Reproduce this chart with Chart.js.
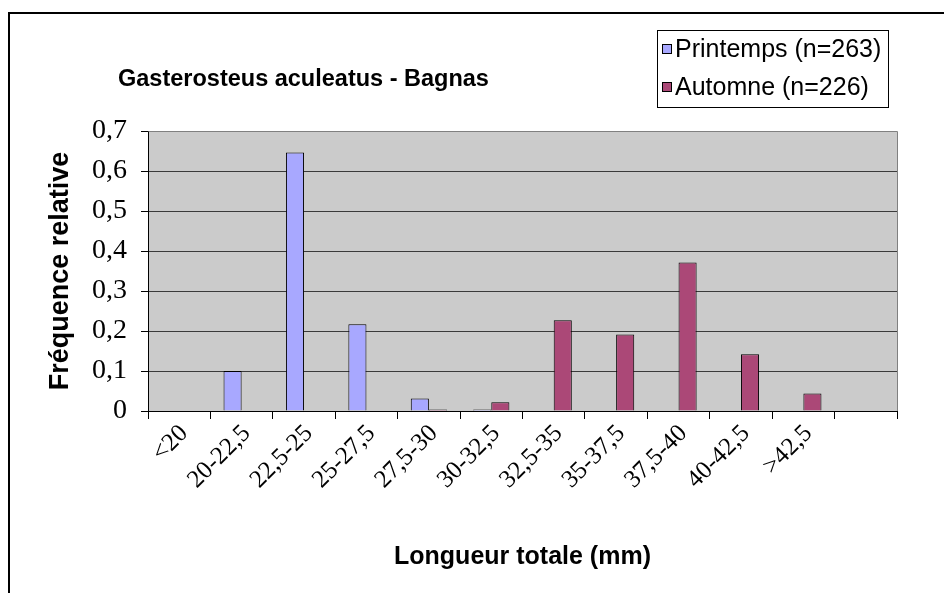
<!DOCTYPE html>
<html>
<head>
<meta charset="utf-8">
<script src="https://cdn.jsdelivr.net/npm/chart.js@4/dist/chart.umd.min.js"></script>
<style>
  html, body { margin: 0; padding: 0; background: #fff; }
  #wrap { width: 944px; height: 593px; }
</style>
</head>
<body>
<div id="wrap"><canvas id="lengthChart" width="944" height="593"></canvas></div>
<script>
// --- data ---
const classes = ['<20', '20-22,5', '22,5-25', '25-27,5', '27,5-30', '30-32,5', '32,5-35', '35-37,5', '37,5-40', '40-42,5', '>42,5', ''];
const printemps = [0, 0.10, 0.646, 0.217, 0.031, 0.004, 0, 0, 0, 0, 0, 0];
const automne = [0, 0, 0, 0, 0.004, 0.022, 0.227, 0.191, 0.371, 0.142, 0.044, 0];
const seriesNames = ['Printemps (n=263)', 'Automne (n=226)'];
const chartTitle = 'Gasterosteus aculeatus - Bagnas';

const blue = '#a8a8ff';
const plum = '#ab4877';
const ink = '#000000';
const plotGrey = '#cbcbcb';
const gridColor = '#3a3a3a';

// grey plot area, outer frame lines, title and boxed legend (Excel look)
const excelDecor = {
    id: 'excelDecor',
    beforeDraw(chart) {
        const { ctx, chartArea: a } = chart;
        ctx.save();
        ctx.fillStyle = plotGrey;
        ctx.fillRect(a.left, a.top, a.right - a.left, a.bottom - a.top);
        ctx.restore();
    },
    afterDraw(chart) {
        const { ctx, chartArea: a } = chart;
        ctx.save();
        // plot border top / right
        ctx.strokeStyle = '#808080';
        ctx.lineWidth = 1;
        ctx.beginPath();
        ctx.moveTo(Math.round(a.left) + 0.5, Math.round(a.top) + 0.5);
        ctx.lineTo(Math.round(a.right) + 0.5, Math.round(a.top) + 0.5);
        ctx.lineTo(Math.round(a.right) + 0.5, Math.round(a.bottom));
        ctx.stroke();

        // outer chart frame (only left and top visible)
        ctx.strokeStyle = ink;
        ctx.lineWidth = 2;
        ctx.beginPath();
        ctx.moveTo(9, 593);
        ctx.lineTo(9, 13);
        ctx.lineTo(944, 13);
        ctx.stroke();

        // title
        ctx.fillStyle = ink;
        ctx.font = 'bold 23.5px "Liberation Sans", Arial, sans-serif';
        ctx.textBaseline = 'alphabetic';
        ctx.textAlign = 'left';
        ctx.fillText(chartTitle, 118, 86);

        // legend box
        ctx.lineWidth = 1;
        ctx.strokeStyle = ink;
        ctx.strokeRect(657.5, 30.5, 231, 77);
        const colors = [blue, plum];
        const rowsY = [49, 87];
        ctx.font = '25px "Liberation Sans", Arial, sans-serif';
        ctx.textBaseline = 'middle';
        seriesNames.forEach((name, i) => {
            ctx.fillStyle = colors[i];
            ctx.fillRect(662, rowsY[i] - 4, 9, 9);
            ctx.strokeStyle = ink;
            ctx.strokeRect(662.5, rowsY[i] - 4.5, 9, 9);
            ctx.fillStyle = ink;
            ctx.fillText(name, 675, rowsY[i] + 1);
        });
        ctx.restore();
    }
};

const ctx = document.getElementById('lengthChart');
new Chart(ctx.getContext('2d'), {
    type: 'bar',
    data: {
        labels: classes,
        datasets: [
            { label: seriesNames[0], data: printemps, backgroundColor: blue, borderColor: ink, borderWidth: 1, borderSkipped: 'bottom' },
            { label: seriesNames[1], data: automne, backgroundColor: plum, borderColor: ink, borderWidth: 1, borderSkipped: 'bottom' }
        ]
    },
    options: {
        responsive: false,
        animation: false,
        layout: { padding: { left: 0, top: 131, right: 47, bottom: 0 } },
        datasets: { bar: { categoryPercentage: 0.58, barPercentage: 1.0 } },
        scales: {
            x: {
                afterFit: (s) => { s.height = 182; },
                grid: { offset: true, drawOnChartArea: false, tickLength: 8, color: ink, tickColor: ink },
                border: { color: ink, width: 1 },
                ticks: {
                    autoSkip: false, minRotation: 45, maxRotation: 45, padding: 0, labelOffset: 5,
                    color: ink, font: { family: '"Liberation Serif", "Times New Roman", serif', size: 25 }
                },
                title: {
                    display: true, text: 'Longueur totale (mm)', color: ink,
                    font: { family: '"Liberation Sans", Arial, sans-serif', size: 25, weight: 'bold' },
                    padding: { top: 0, bottom: 21 }
                }
            },
            y: {
                min: 0, max: 0.7,
                afterFit: (s) => { s.width = 148; },
                grid: { color: gridColor, tickColor: ink, tickLength: 7 },
                border: { color: ink, width: 1 },
                ticks: {
                    stepSize: 0.1, padding: 14, color: ink,
                    font: { family: '"Liberation Serif", "Times New Roman", serif', size: 28 },
                    callback: (v) => v === 0 ? '0' : Number(v).toFixed(1).replace('.', ',')
                },
                title: {
                    display: true, text: 'Fréquence relative', color: ink,
                    font: { family: '"Liberation Sans", Arial, sans-serif', size: 27, weight: 'bold' },
                    padding: { top: 44, bottom: 0 }
                }
            }
        },
        plugins: { legend: { display: false }, tooltip: { enabled: false } }
    },
    plugins: [excelDecor]
});
</script>
</body>
</html>
